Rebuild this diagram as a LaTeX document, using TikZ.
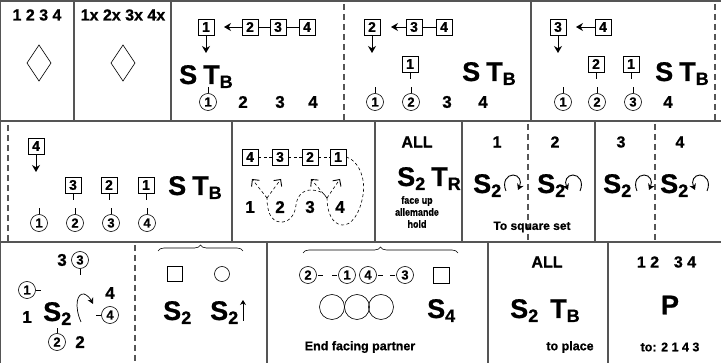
\documentclass[tikz,border=0pt]{standalone}
\usepackage{fontspec}
\setmainfont{Liberation Sans}[BoldFeatures={FakeBold=0.8}]
\newfontfamily\cnd{Liberation Sans}[FakeStretch=0.85, BoldFeatures={FakeBold=0.6}]
\usetikzlibrary{arrows.meta,decorations.pathreplacing}
\definecolor{ln}{RGB}{85,85,85}
\newcommand\sbx[1]{\raisebox{-4pt}{\fontsize{18}{18}\selectfont #1}}
\begin{document}
\begin{tikzpicture}[x=1pt,y=-1pt,
 frame/.style={draw=ln, line width=1.3pt},
 dframe/.style={draw=ln, line width=1.1pt, dash pattern=on 6pt off 4pt},
 num/.style={font=\bfseries\fontsize{16}{16}\selectfont, inner sep=0},
 bnum/.style={font=\bfseries\fontsize{17}{17}\selectfont, inner sep=0},
 bx/.style={draw, line width=0.6pt, minimum size=16pt, inner sep=0, font=\bfseries\fontsize{14}{14}\selectfont},
 cn/.style={draw, circle, line width=0.6pt, minimum size=17pt, inner sep=0, font=\bfseries\fontsize{13}{13}\selectfont},
 big/.style={font=\bfseries\fontsize{27}{27}\selectfont, inner sep=0, anchor=base west},
 sm/.style={font=\cnd\bfseries\fontsize{10.5}{12}\selectfont, inner sep=0, align=center},
 md/.style={font=\bfseries\fontsize{12.5}{12.5}\selectfont, inner sep=0},
 darr/.style={line width=0.8pt, -{Stealth[length=7pt,width=8pt]}},
 tick/.style={line width=0.5pt},
 dsh/.style={line width=0.6pt, dash pattern=on 3pt off 2.5pt},
 upv/.style={dsh, -{Straight Barb[length=5pt,width=10pt,line width=0.9pt]}},
 rot/.style={line width=0.9pt, -{Stealth[length=6pt,width=7pt]}},
 cwarr/.pic={\draw[rot] (-6,7) .. controls (-10,-2) and (-5,-9) .. (1,-9) .. controls (7,-9) and (10,-3) .. (6,6);},
 ccwarr/.pic={\draw[rot] (6,7) .. controls (10,-2) and (5,-9) .. (-1,-9) .. controls (-7,-9) and (-10,-3) .. (-6,6);},
]
\useasboundingbox (0,0) rectangle (721,363);
% ---------- frame ----------
\draw[frame, line width=2pt] (0,1) -- (721,1);
\draw[frame] (0,121) -- (721,121);
\draw[frame] (0,242) -- (721,242);
\draw[frame] (0.6,0) -- (0.6,363);
\draw[frame] (74,1) -- (74,121);
\draw[frame] (171,1) -- (171,121);
\draw[dframe] (344,4) -- (344,121);
\draw[frame] (531,1) -- (531,121);
\draw[dframe] (715,4) -- (715,121);
\draw[dframe] (8,125) -- (8,242);
\draw[frame] (232,121) -- (232,242);
\draw[frame] (375,121) -- (375,242);
\draw[frame] (462,121) -- (462,242);
\draw[dframe] (528,124) -- (528,242);
\draw[frame] (595,121) -- (595,242);
\draw[dframe] (655,124) -- (655,242);
\draw[dframe] (135,245) -- (135,363);
\draw[frame] (267,242) -- (267,363);
\draw[frame] (488,242) -- (488,363);
\draw[frame] (608,242) -- (608,363);
% ---------- row 1 ----------
\node[num] (t1) at (37,15) {1 2 3 4};
\draw[line width=0.6pt] (39,45) -- (51,63) -- (39,81) -- (27,63) -- cycle;
\node[num] (t2) at (123,15) {1x 2x 3x 4x};
\draw[line width=0.6pt] (123,45) -- (135,63) -- (123,81) -- (111,63) -- cycle;
% cell 3
\node[bx] (a1) at (206,27) {1};
\node[bx] (a2) at (250,27) {2};
\node[bx] (a3) at (278,27) {3};
\node[bx] (a4) at (307,27) {4};
\coordinate (a1t) at (224,27);
\draw[darr] (a2.west) -- (a1t);
\draw[line width=0.6pt] (a2) -- (a3) (a3) -- (a4);
\coordinate (a1d) at (206,53);
\draw[darr] (a1.south) -- (a1d);
\node[big] (aS) at (179,84) {S\hspace{6pt}T\sbx{B}};
\node[cn] (ac1) at (208,102) {1};
\node[bnum] (an2) at (243,102) {2};
\node[bnum] (an3) at (280,102) {3};
\node[bnum] (an4) at (313,102) {4};
\draw[tick] (ac1.north) -- ++(0,-6);
% cell 4
\node[bx] (b2) at (372,27) {2};
\node[bx] (b3) at (414,27) {3};
\node[bx] (b4) at (444,27) {4};
\coordinate (b2t) at (391,27);
\draw[darr] (b3.west) -- (b2t);
\draw[line width=0.6pt] (b3) -- (b4);
\coordinate (b2d) at (372,53);
\draw[darr] (b2.south) -- (b2d);
\node[bx] (b1) at (410,64) {1};
\draw[tick] (b1.south) -- ++(0,7);
\node[big] (bS) at (462,81) {S\hspace{6pt}T\sbx{B}};
\node[cn] (bc1) at (375,102) {1};
\node[cn] (bc2) at (411,102) {2};
\node[bnum] (bn3) at (447,102) {3};
\node[bnum] (bn4) at (483,102) {4};
\draw[tick] (bc1.north) -- ++(0,-6);
\draw[tick] (bc2.north) -- ++(0,-6);
% cell 5
\node[bx] (c3) at (558,27) {3};
\node[bx] (c4) at (603,27) {4};
\coordinate (c3t) at (576,27);
\draw[darr] (c4.west) -- (c3t);
\coordinate (c3d) at (558,53);
\draw[darr] (c3.south) -- (c3d);
\node[bx] (c2) at (596,64) {2};
\node[bx] (c1) at (631,64) {1};
\draw[tick] (c2.south) -- ++(0,7);
\draw[tick] (c1.south) -- ++(0,7);
\node[big] (cS) at (655,81) {S\hspace{6pt}T\sbx{B}};
\node[cn] (cc1) at (563,102) {1};
\node[cn] (cc2) at (597,102) {2};
\node[cn] (cc3) at (633,102) {3};
\node[bnum] (cn4) at (668,102) {4};
\draw[tick] (cc1.north) -- ++(0,-6);
\draw[tick] (cc2.north) -- ++(0,-6);
\draw[tick] (cc3.north) -- ++(0,-6);
% ---------- row 2 ----------
% cell 1
\node[bx] (d4) at (36,146) {4};
\coordinate (d4d) at (36,172);
\draw[darr] (d4.south) -- (d4d);
\node[bx] (d3) at (73,185) {3};
\node[bx] (d2) at (109,185) {2};
\node[bx] (d1) at (146,185) {1};
\draw[tick] (d3.south) -- ++(0,7);
\draw[tick] (d2.south) -- ++(0,7);
\draw[tick] (d1.south) -- ++(0,7);
\node[big] (dS) at (168,195) {S\hspace{6pt}T\sbx{B}};
\node[cn] (dc1) at (39,223) {1};
\node[cn] (dc2) at (75,223) {2};
\node[cn] (dc3) at (111,223) {3};
\node[cn] (dc4) at (147,223) {4};
\draw[tick] (dc1.north) -- ++(0,-6);
\draw[tick] (dc2.north) -- ++(0,-6);
\draw[tick] (dc3.north) -- ++(0,-6);
\draw[tick] (dc4.north) -- ++(0,-6);
% cell 2
\node[bx] (e4) at (250,157) {4};
\node[bx] (e3) at (280,157) {3};
\node[bx] (e2) at (310,157) {2};
\node[bx] (e1) at (338,157) {1};
\draw[dsh] (e4) -- (e3);
\draw[dsh] (e3) -- (e2);
\draw[dsh] (e2) -- (e1);
\node[bnum] (en1) at (250,207) {1};
\node[bnum] (en2) at (280,207) {2};
\node[bnum] (en3) at (310,207) {3};
\node[bnum] (en4) at (340,207) {4};
\coordinate (j1) at (267,198);
\coordinate (j2) at (327,198);
\coordinate (u1) at (252,179);
\coordinate (u2) at (281,179);
\coordinate (u3) at (311,179);
\coordinate (u4) at (340,179);
\draw[upv] (j1) -- (u1);
\draw[upv] (j1) -- (u2);
\draw[upv] (j2) -- (u3);
\draw[upv] (j2) -- (u4);
\draw[dsh] (e1.east) .. controls (358,160) and (366,178) .. (363,195)
  .. controls (360,214) and (351,226) .. (342,225)
  .. controls (332,224) and (327,212) .. (j2)
  .. controls (324,192) and (317,190) .. (311,190)
  .. controls (302,190) and (297,197) .. (296,205)
  .. controls (295,216) and (288,223) .. (280,222)
  .. controls (271,221) and (267,212) .. (j1);
% cell 3
\node[num] (fall) at (417,142) {ALL};
\node[big] (fS) at (397,186) {S\sbx{2}\hspace{6pt}T\sbx{R}};
\node[sm] (ftx) at (417,212) {face up\\allemande\\hold};
% cell 4
\node[num] (g1) at (497,142) {1};
\node[num] (g2) at (555,142) {2};
\node[num] (g3) at (621,142) {3};
\node[num] (g4) at (680,142) {4};
\node[big] (gS1) at (473,193) {S\sbx{2}};
\node[big] (gS2) at (537,193) {S\sbx{2}};
\node[big] (gS3) at (603,193) {S\sbx{2}};
\node[big] (gS4) at (660,193) {S\sbx{2}};
\coordinate (r1) at (512,184);
\coordinate (r2) at (574,184);
\coordinate (r3) at (643,184);
\coordinate (r4) at (701,184);
\pic at (r1) {cwarr};
\pic at (r2) {ccwarr};
\pic at (r3) {cwarr};
\pic at (r4) {ccwarr};
\node[md, font=\bfseries\fontsize{12}{12}\selectfont] (gtx) at (532,227) {To square set};
% ---------- row 3 ----------
% cell 1
\node[bnum] (h3) at (62,260) {3};
\node[cn] (hc3) at (80,260) {3};
\draw[tick] (hc3.south) -- ++(0,6);
\node[cn] (hc1) at (27,290) {1};
\draw[tick] (hc1.east) -- ++(5,0);
\node[bnum] (h1) at (27,317) {1};
\node[big] (hS) at (43,321) {S\sbx{2}};
\draw[line width=0.7pt, -{Stealth[length=6pt,width=6pt]}] (81,322) .. controls (74,306) and (77,293) .. (84,294) .. controls (87,295) and (90,298) .. (93,304);
\node[bnum] (h4) at (110,293) {4};
\node[cn] (hc4) at (110,315) {4};
\draw[tick] (hc4.west) -- ++(-5,0);
\node[cn] (hc2) at (57,342) {2};
\draw[tick] (hc2.north) -- ++(0,-5);
\node[bnum] (h2) at (80,342) {2};
% cell 2
\draw[line width=0.6pt, decorate, decoration={brace, amplitude=6pt}] (158,251) -- (243,251);
\node[draw, line width=0.6pt, minimum size=15pt, inner sep=0] (isq) at (175,274) {};
\node[draw, circle, line width=0.6pt, minimum size=15pt, inner sep=0] (ici) at (222,274) {};
\node[big] (iS1) at (163,320) {S\sbx{2}};
\node[big] (iS2) at (210,320) {S\sbx{2}};
\coordinate (ia0) at (243,321);
\coordinate (ia1) at (243,300);
\draw[line width=0.7pt, -{Stealth[length=5pt,width=6pt]}] (ia0) -- (ia1);
% cell 3
\draw[line width=0.6pt, decorate, decoration={brace, amplitude=6pt}] (303,253) -- (458,253);
\node[cn] (kc2) at (308,275) {2};
\node[cn] (kc1) at (347,275) {1};
\node[cn] (kc4) at (368,275) {4};
\node[cn] (kc3) at (405,275) {3};
\draw[tick] ([xshift=1pt]kc2.east) -- ++(5,0);
\draw[tick] ([xshift=-1pt]kc1.west) -- ++(-5,0);
\draw[tick] ([xshift=1pt]kc4.east) -- ++(5,0);
\draw[tick] ([xshift=-1pt]kc3.west) -- ++(-5,0);
\node[draw, line width=0.6pt, minimum size=16pt, inner sep=0] (ksq) at (441,275) {};
\node[draw, circle, line width=0.6pt, minimum size=25pt, inner sep=0] (ko1) at (332,307) {};
\node[draw, circle, line width=0.6pt, minimum size=25pt, inner sep=0] (ko2) at (357,307) {};
\node[draw, circle, line width=0.6pt, minimum size=25pt, inner sep=0] (ko3) at (381,307) {};
\node[big] (kS) at (427,318) {S\sbx{4}};
\node[md] (ktx) at (360,347) {End facing partner};
% cell 4
\node[num] (lall) at (547,262) {ALL};
\node[big] (lS) at (510,318) {S\sbx{2}};
\node[big] (lT) at (550,318) {T\sbx{B}};
\node[md] (ltx) at (570,347) {to place};
% cell 5
\node[num] (m12) at (648,262) {1 2};
\node[num] (m34) at (685,262) {3 4};
\node[font=\bfseries\fontsize{27}{27}\selectfont, inner sep=0] (mP) at (670,305) {P};
\node[md] (mtx) at (670,347) {to: 2 1 4 3};
\end{tikzpicture}
\end{document}
